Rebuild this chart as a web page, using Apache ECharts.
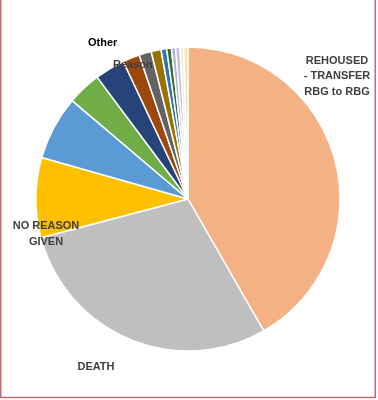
<!DOCTYPE html>
<html><head><meta charset="utf-8">
<script src="https://cdn.jsdelivr.net/npm/echarts@6/dist/echarts.min.js"></script>
<style>html,body{margin:0;padding:0;background:#fff}#c{width:378px;height:400px}</style>
</head><body><div id="c"></div>
<script>
const categories = ["REHOUSED - TRANSFER RBG to RBG","DEATH","NO REASON GIVEN","","","","Other Reason","","","","","","","",""];
const values = [41.7,29.2,8.5,6.8,3.6,3.2,1.8,1.3,1.05,0.6,0.5,0.45,0.45,0.4,0.45];
const colors = ["#F4B183","#BFBFBF","#FFC000","#5B9BD5","#70AD47","#264478","#9E480E","#636363","#997300","#2E75B6","#43682B","#A9B9D8","#C9B8DA","#EDEDED","#FFE699"];
const labelSpots = {0:{x:337,y:76,align:'center'},1:{x:96,y:367,align:'center'},2:{x:46,y:234,align:'center'},6:{x:88,y:54,align:'left'}};
const chart = echarts.init(document.getElementById('c'));
chart.setOption({
  animation:false,
  graphic:[{type:'rect',shape:{x:0.75,y:-5,width:374.5,height:402.5},style:{fill:'none',stroke:'#C86B6E',lineWidth:1.5},z:100}],
  series:[{
    type:'pie', center:[188,199], radius:152, startAngle:90, clockwise:true,
    avoidLabelOverlap:false,
    itemStyle:{borderColor:'#fff',borderWidth:1.5},
    data: categories.map((n,i)=>({name:n||('item'+i),value:values[i],itemStyle:{color:colors[i]}})),
    label:{show:true,position:'inside',color:'#404040',fontFamily:'Liberation Sans',fontWeight:'bold',fontSize:11,lineHeight:15.5,
      formatter:p=>{
        if(p.dataIndex===0) return 'REHOUSED\n- TRANSFER\nRBG to RBG';
        if(p.dataIndex===1) return 'DEATH';
        if(p.dataIndex===2) return 'NO REASON\nGIVEN';
        if(p.dataIndex===6) return '{a|Other}\n{b|Reason}';
        return '';
      },
      rich:{a:{color:'#000',fontFamily:'Liberation Sans',fontWeight:'bold',fontSize:11,lineHeight:22},b:{color:'#404040',fontFamily:'Liberation Sans',fontWeight:'bold',fontSize:11,lineHeight:22,padding:[0,0,0,25]}}
    },
    labelLine:{show:false},
    labelLayout:p=>{const s=labelSpots[p.dataIndex]; return s?{x:s.x,y:s.y,align:s.align,verticalAlign:'middle'}:{}}
  }]
});
</script></body></html>
